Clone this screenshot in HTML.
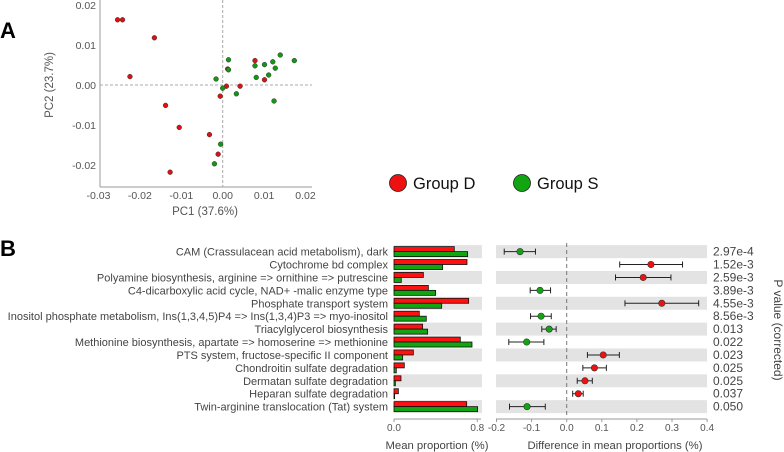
<!DOCTYPE html>
<html><head><meta charset="utf-8"><style>
body{margin:0;background:#fff}
svg{display:block;font-family:"Liberation Sans",sans-serif}
</style></head><body>
<svg id="fig" width="784" height="452" viewBox="0 0 784 452">
<text x="0" y="38" font-size="22" font-weight="bold">A</text>
<text x="0" y="256" font-size="22" font-weight="bold">B</text>
<g id="pca"></g>
<g>
<g><circle cx="398" cy="183" r="8.5" fill="#ee1111" stroke="#222" stroke-width="0.8"/><text x="413" y="189" font-size="16.5" fill="#111">Group D</text></g>
<g><circle cx="522" cy="183" r="8.5" fill="#11a511" stroke="#222" stroke-width="0.8"/><text x="537" y="189" font-size="16.5" fill="#111">Group S</text></g>
</g>
<g id="ext"></g>
</svg>
<script>
// PCA data
const redPC1=[-0.0254,-0.0242,-0.0165,-0.0224,-0.0138,-0.0105,-0.0127,-0.0032,-0.0011,-0.0006,0.0009,0.0042,0.0012,0.0078,0.0101];
const redPC2=[0.0163,0.0163,0.0118,0.0021,-0.0051,-0.0106,-0.0218,-0.0124,-0.0173,-0.0028,-0.0003,-0.0003,0.0040,0.0061,0.0013];
const greenPC1=[0.0014,0.0014,-0.0016,0.0000,0.0033,0.0078,0.0081,0.0101,0.0111,0.0121,0.0127,0.0139,0.0173,0.0124,-0.0005,-0.0020];
const greenPC2=[0.0063,0.0038,0.0015,-0.0008,-0.0022,0.0048,0.0019,0.0051,0.0025,0.0058,0.0042,0.0075,0.0061,-0.0040,-0.0148,-0.0197];
const pcXTicks=["-0.03","-0.02","-0.01","0.00","0.01","0.02"];
const pcYTicks=["0.02","0.01","0.00","-0.01","-0.02"];
// Panel B data
const pathways=["CAM (Crassulacean acid metabolism), dark","Cytochrome bd complex","Polyamine biosynthesis, arginine => ornithine => putrescine","C4-dicarboxylic acid cycle, NAD+ -malic enzyme type","Phosphate transport system","Inositol phosphate metabolism, Ins(1,3,4,5)P4 => Ins(1,3,4)P3 => myo-inositol","Triacylglycerol biosynthesis","Methionine biosynthesis, apartate => homoserine => methionine","PTS system, fructose-specific II component","Chondroitin sulfate degradation","Dermatan sulfate degradation","Heparan sulfate degradation","Twin-arginine translocation (Tat) system"];
const meanD=[0.579,0.701,0.282,0.330,0.717,0.243,0.275,0.637,0.186,0.099,0.067,0.042,0.698];
const meanS=[0.707,0.467,0.070,0.400,0.458,0.310,0.323,0.749,0.083,0.022,0.013,0.006,0.803];
const diff=[-0.133,0.240,0.218,-0.076,0.271,-0.073,-0.050,-0.114,0.104,0.079,0.052,0.033,-0.113];
const ciLow=[-0.178,0.151,0.139,-0.104,0.166,-0.103,-0.071,-0.165,0.059,0.046,0.030,0.017,-0.163];
const ciHigh=[-0.089,0.330,0.297,-0.046,0.376,-0.044,-0.030,-0.065,0.150,0.113,0.073,0.047,-0.061];
const pvals=["2.97e-4","1.52e-3","2.59e-3","3.89e-3","4.55e-3","8.56e-3","0.013","0.022","0.023","0.025","0.025","0.037","0.050"];
const barTicks=[0,0.8];
const diffTicks=[-0.2,-0.1,0,0.1,0.2,0.3,0.4];

const NS="http://www.w3.org/2000/svg";
function mk(parent,tag,attrs,text){const e=document.createElementNS(NS,tag);for(const k in attrs)e.setAttribute(k,attrs[k]);if(text!==undefined)e.textContent=text;parent.appendChild(e);return e;}

const pca=document.getElementById('pca');
const px=v=>222.7+v/0.01*41.4;
const py=v=>85-v/0.01*40;
mk(pca,'line',{x1:100,y1:0,x2:100,y2:187,stroke:'#999','stroke-width':1});
mk(pca,'line',{x1:100,y1:187,x2:312,y2:187,stroke:'#999','stroke-width':1});
mk(pca,'line',{x1:px(0),y1:0,x2:px(0),y2:187,stroke:'#aaa','stroke-width':1,'stroke-dasharray':'3,2'});
mk(pca,'line',{x1:100,y1:py(0),x2:312,y2:py(0),stroke:'#aaa','stroke-width':1,'stroke-dasharray':'3,2'});
pcXTicks.forEach(t=>{const e=mk(pca,'text',{x:px(parseFloat(t)),y:199,'font-size':10.5,fill:'#555','text-anchor':'middle'},t);

});
pcYTicks.forEach(t=>{const e=mk(pca,'text',{x:96,y:py(parseFloat(t))+4,'font-size':10.5,fill:'#555','text-anchor':'end'},t);

});
let t1=mk(pca,'text',{x:205,y:215,'font-size':11.5,fill:'#555','text-anchor':'middle'},'PC1 (37.6%)');


let t2=mk(pca,'text',{x:0,y:0,'font-size':11.5,fill:'#555','text-anchor':'middle',transform:'translate(53,85) rotate(-90)'},'PC2 (23.7%)');


redPC1.forEach((v,i)=>{const c=mk(pca,'circle',{cx:px(v),cy:py(redPC2[i]),r:2.4,fill:'#dd1111',stroke:'#333','stroke-width':0.5});

});
greenPC1.forEach((v,i)=>{const c=mk(pca,'circle',{cx:px(v),cy:py(greenPC2[i]),r:2.4,fill:'#119911',stroke:'#333','stroke-width':0.5});

});

const ext=document.getElementById('ext');
const rowY=i=>251.6+i*12.92;
const bx=v=>394+v/0.8*83.3;
const dx=v=>566.7+v/0.1*35.1;
pathways.forEach((p,i)=>{
  const y=rowY(i);
  if(i%2===0){
    mk(ext,'rect',{x:394,y:y-6.5,width:88,height:13,fill:'#e3e3e3'});
    mk(ext,'rect',{x:496,y:y-6.5,width:211,height:13,fill:'#e3e3e3'});
  }
  const lab=mk(ext,'text',{x:388,y:y+4,'font-size':11,fill:'#444','text-anchor':'end'},p);
  
  
});
mk(ext,'line',{x1:dx(0),y1:243,x2:dx(0),y2:418,stroke:'#777','stroke-width':1,'stroke-dasharray':'4,3'});
pathways.forEach((p,i)=>{
  const y=rowY(i);
  const r=mk(ext,'rect',{x:bx(0),y:y-5,width:bx(meanD[i])-bx(0),height:5,fill:'#ff1111',stroke:'#111','stroke-width':0.8});
  
  
  const g=mk(ext,'rect',{x:bx(0),y:y,width:bx(meanS[i])-bx(0),height:5,fill:'#11a511',stroke:'#111','stroke-width':0.8});
  
  
  const col=diff[i]>0?'#ee1111':'#11a511';
  mk(ext,'line',{x1:dx(ciLow[i]),y1:y,x2:dx(ciHigh[i]),y2:y,stroke:'#222','stroke-width':1});
  mk(ext,'line',{x1:dx(ciLow[i]),y1:y-3,x2:dx(ciLow[i]),y2:y+3,stroke:'#222','stroke-width':1});
  mk(ext,'line',{x1:dx(ciHigh[i]),y1:y-3,x2:dx(ciHigh[i]),y2:y+3,stroke:'#222','stroke-width':1});
  const c=mk(ext,'circle',{cx:dx(diff[i]),cy:y,r:3.2,fill:col,stroke:'#333','stroke-width':0.6});
  
  
  const pv=mk(ext,'text',{x:713,y:y+4,'font-size':12,fill:'#444'},pvals[i]);
  
  
});
mk(ext,'line',{x1:394,y1:419,x2:481,y2:419,stroke:'#999','stroke-width':1});
barTicks.forEach(t=>{mk(ext,'line',{x1:bx(t),y1:419,x2:bx(t),y2:422,stroke:'#999'});
 const e=mk(ext,'text',{x:bx(t),y:431,'font-size':10,fill:'#555','text-anchor':'middle'},t.toFixed(1));
 
 });
mk(ext,'line',{x1:496,y1:419,x2:707,y2:419,stroke:'#999','stroke-width':1});
diffTicks.forEach(t=>{mk(ext,'line',{x1:dx(t),y1:419,x2:dx(t),y2:422,stroke:'#999'});
 const e=mk(ext,'text',{x:dx(t),y:431,'font-size':10,fill:'#555','text-anchor':'middle'},t.toFixed(1));
 
 });
let a1=mk(ext,'text',{x:437,y:449,'font-size':11.3,fill:'#444','text-anchor':'middle'},'Mean proportion (%)');


let a2=mk(ext,'text',{x:615,y:449,'font-size':11.3,fill:'#444','text-anchor':'middle'},'Difference in mean proportions (%)');


let a3=mk(ext,'text',{x:0,y:0,'font-size':12,fill:'#444','text-anchor':'middle',transform:'translate(774,330) rotate(90)'},'P value (corrected)');


</script>
</body></html>
